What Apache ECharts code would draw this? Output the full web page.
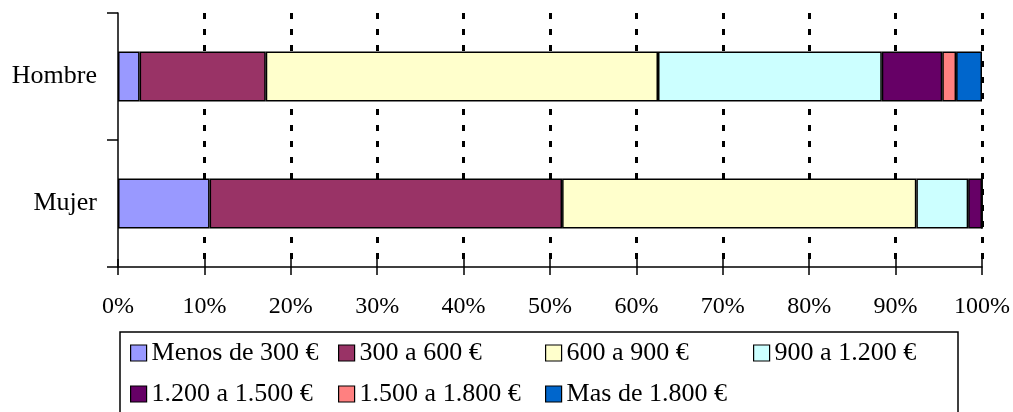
<!DOCTYPE html>
<html>
<head>
<meta charset="utf-8">
<script src="https://cdn.jsdelivr.net/npm/echarts@6/dist/echarts.min.js"></script>
<style>
  html, body { margin: 0; padding: 0; background: #fff; }
  #chart { width: 1013px; height: 412px; }
</style>
</head>
<body>
<div id="chart"></div>
<script>
// datos (porcentaje por tramo de ingresos)
const categories = ['Hombre', 'Mujer'];
const seriesNames = [
  'Menos de 300 €', '300 a 600 €', '600 a 900 €', '900 a 1.200 €',
  '1.200 a 1.500 €', '1.500 a 1.800 €', 'Mas de 1.800 €'
];
const hombre = [2.5, 14.6, 45.4, 25.9, 7.0, 1.6, 3.0];
const mujer = [10.6, 40.8, 41.0, 6.0, 1.6, 0, 0];
const colors = ['#9999FF', '#993366', '#FFFFCC', '#CCFFFF', '#660066', '#FF8080', '#0066CC'];
const xTicks = [0, 100, 10]; // min, max, interval

const chart = echarts.init(document.getElementById('chart'));
const font = 'Liberation Serif, Times New Roman, serif';

// posiciones de la leyenda (en dos filas, como en el original)
const legendPos = [
  [130, 340], [338, 340], [545, 340], [753, 340],
  [130, 381], [338, 381], [545, 381]
];

const option = {
  animation: false,
  color: colors,
  grid: { left: 118, right: 31, top: 13, bottom: 145 },
  xAxis: [
    {
      type: 'value',
      min: xTicks[0], max: xTicks[1], interval: xTicks[2],
      axisLine: { show: true, lineStyle: { color: '#000', width: 1.5 } },
      axisTick: { show: true, length: 8, lineStyle: { color: '#000', width: 1.5 } },
      axisLabel: { formatter: '{value}%', color: '#000', fontFamily: font, fontSize: 24, margin: 28 },
      splitLine: {
        show: true, showMinLine: false,
        lineStyle: { color: '#000', width: 3, type: [6, 10] }
      }
    },
    {
      type: 'value', position: 'bottom',
      min: xTicks[0], max: xTicks[1], interval: xTicks[2],
      axisLine: { show: false },
      axisTick: { show: true, inside: true, length: 8, lineStyle: { color: '#000', width: 1.5 } },
      axisLabel: { show: false },
      splitLine: { show: false }
    }
  ],
  yAxis: {
    type: 'category',
    inverse: true,
    data: categories,
    axisLine: { show: true, lineStyle: { color: '#000', width: 1.5 } },
    axisTick: { show: true, length: 11, lineStyle: { color: '#000', width: 1.5 } },
    axisLabel: { color: '#000', fontFamily: font, fontSize: 26, margin: 21 }
  },
  legend: seriesNames.map((name, i) => ({
    data: [name],
    left: legendPos[i][0],
    top: legendPos[i][1],
    padding: 0,
    itemWidth: 16,
    itemHeight: 16,
    icon: 'rect',
    itemStyle: { borderColor: '#000', borderWidth: 1.2 },
    textStyle: { color: '#000', fontFamily: font, fontSize: 26 },
    selectedMode: false
  })),
  graphic: [{
    type: 'rect',
    shape: { x: 120, y: 332, width: 838, height: 120 },
    style: { fill: 'none', stroke: '#000', lineWidth: 1.5 },
    silent: true
  }],
  series: seriesNames.map((name, i) => ({
    name: name,
    type: 'bar',
    stack: 'total',
    barWidth: 50,
    itemStyle: { color: colors[i], borderColor: '#000', borderWidth: 1.5 },
    data: [hombre[i], mujer[i]]
  }))
};

chart.setOption(option);
</script>
</body>
</html>
